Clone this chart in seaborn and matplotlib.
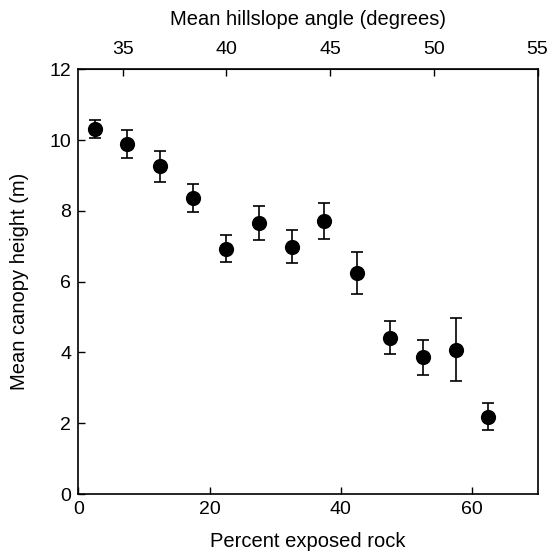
import matplotlib
matplotlib.use("Agg")
from matplotlib import pyplot as plt
import numpy as np
import pandas as pd
import seaborn as sns

# percent exposed rock (bin centres) and mean canopy height
rock_pct = [2.5, 7.5, 12.5, 17.5, 22.5, 27.5, 32.5, 37.5, 42.5, 47.5, 52.5, 57.5, 62.5]
canopy_h = [10.31, 9.89, 9.26, 8.36, 6.93, 7.67, 6.99, 7.71, 6.25, 4.42, 3.86, 4.08, 2.18]
canopy_err = [0.26, 0.39, 0.44, 0.40, 0.38, 0.48, 0.46, 0.51, 0.60, 0.47, 0.49, 0.90, 0.38]

angle_ticks = [35, 40, 45, 50, 55]


def rock_to_angle(x):
    return 32.86 + 0.3163 * np.asarray(x)


def angle_to_rock(a):
    return (np.asarray(a) - 32.86) / 0.3163


def main():
    sns.set_style("ticks")
    plt.rcParams['font.family'] = ['Liberation Sans', 'DejaVu Sans']
    plt.rcParams['text.color'] = 'black'
    plt.rcParams['axes.labelcolor'] = 'black'
    plt.rcParams['xtick.color'] = 'black'
    plt.rcParams['ytick.color'] = 'black'

    df = pd.DataFrame({'rock': rock_pct, 'height': canopy_h, 'err': canopy_err})

    fig = plt.figure(figsize=(5.49, 5.54), dpi=100)
    ax = fig.add_axes([0.1426, 0.1083, 0.8366, 0.7666])

    ax.errorbar(df['rock'], df['height'], yerr=df['err'], fmt='none',
                ecolor='black', elinewidth=1.2, capsize=4.3, capthick=1.2, zorder=2)
    sns.scatterplot(data=df, x='rock', y='height', ax=ax, color='black',
                    s=120, edgecolor='black', linewidth=0, zorder=3, legend=False)

    ax.set_xlim(0, 70)
    ax.set_ylim(0, 12)
    ax.set_xticks([0, 20, 40, 60])
    ax.set_yticks([0, 2, 4, 6, 8, 10, 12])
    ax.tick_params(direction='in', length=5, width=1, labelsize=14, pad=5)
    ax.set_xlabel('Percent exposed rock', fontsize=14.5, labelpad=10)
    ax.set_ylabel('Mean canopy height (m)', fontsize=14.5, labelpad=15)
    for s in ax.spines.values():
        s.set_linewidth(1.2)
        s.set_color('black')

    top = ax.secondary_xaxis('top', functions=(rock_to_angle, angle_to_rock))
    top.set_xticks(angle_ticks)
    top.tick_params(direction='in', length=5, width=1, labelsize=14, pad=8)
    top.set_xlabel('Mean hillslope angle (degrees)', fontsize=14.5, labelpad=12)

    fig.savefig('out.png', dpi=100)


if __name__ == "__main__":
    main()
